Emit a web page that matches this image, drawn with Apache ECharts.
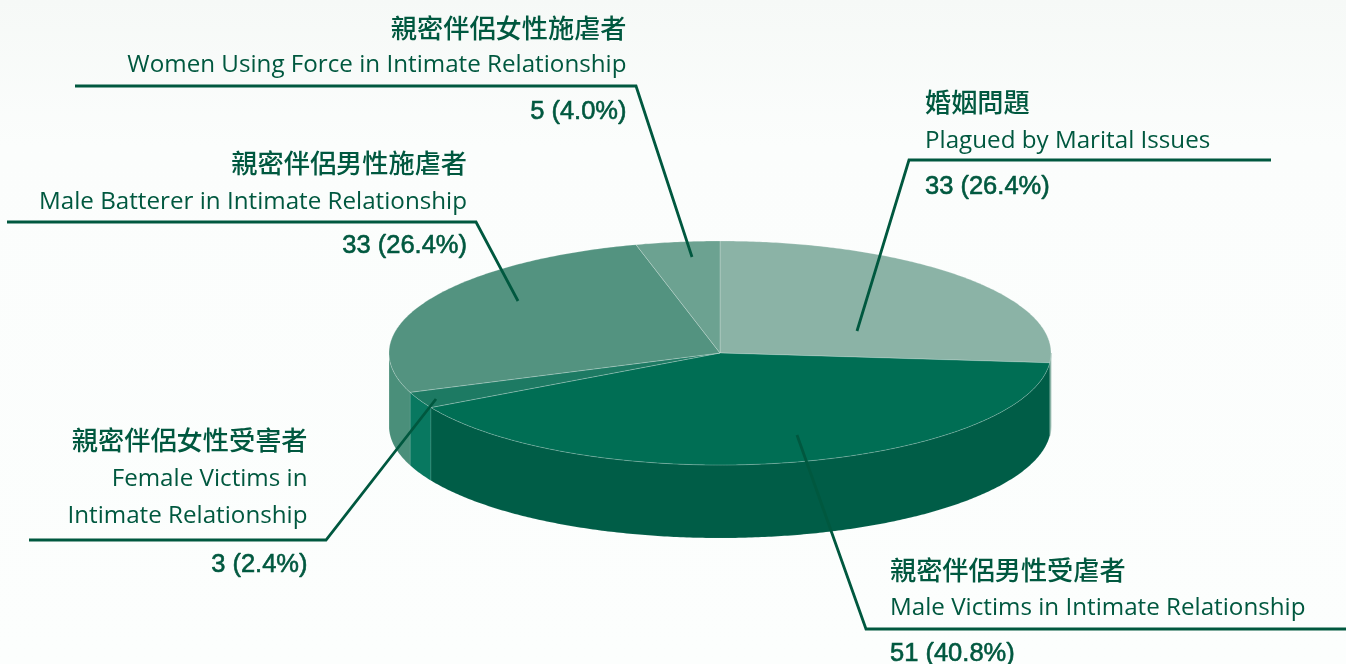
<!DOCTYPE html>
<html>
<head>
<meta charset="utf-8">
<style>html,body{margin:0;padding:0;background:#fcfefd}#c{width:1346px;height:664px}</style>
<script src="https://cdn.jsdelivr.net/npm/echarts@6/dist/echarts.min.js"></script>
</head>
<body>
<div id="c"></div>
<script>
const namesZh = ['婚姻問題','親密伴侶男性受虐者','親密伴侶女性受害者','親密伴侶男性施虐者','親密伴侶女性施虐者'];
const namesEn = [['Plagued by Marital Issues'],['Male Victims in Intimate Relationship'],['Female Victims in','Intimate Relationship'],['Male Batterer in Intimate Relationship'],['Women Using Force in Intimate Relationship']];
const values = [33,51,3,33,5];
const percents = ['26.4%','40.8%','2.4%','26.4%','4.0%'];

const topColors = ['#8bb3a6','#006e54','#1d7a63','#539380','#6ca291'];
const wallColors = ['#8bb3a6','#005d47','#087860','#4a8f7a','#6ca291'];
const ink = '#00583f';
const cx = 720, cy = 353, rx = 331, ry = 112, depth = 73;
const leaders = [
  [[857,331],[909,160],[1271,160]],
  [[797,435],[866,629],[1346,629]],
  [[436,399],[326,540],[29,540]],
  [[518,301],[476,222],[7,222]],
  [[692,257],[636,86],[75,86]]
];
const labelBoxes = [
  {x:925,align:'left',zh:102,en:[141],num:187},
  {x:890,align:'left',zh:570,en:[608],num:654},
  {x:307.5,align:'right',zh:440,en:[479,516],num:565},
  {x:467,align:'right',zh:163,en:[202],num:246},
  {x:626.5,align:'right',zh:28,en:[65],num:112}
];
const total = values.reduce((a,b)=>a+b,0);
const starts = []; { let s = 0; for (const v of values) { starts.push(s); s += v; } }
// slight perspective of the tilted disc: the far-left part of the rim is compressed
const warp = a => a + 0.021*Math.min(0, Math.sin(a));
const pt = (a, dy) => { const w = warp(a); return [cx + rx*Math.sin(w), cy + (dy||0) - ry*Math.cos(w)]; };
function arc(a0, a1, dy) {
  const n = Math.max(2, Math.ceil(Math.abs(a1-a0)/0.01)), out = [];
  for (let i=0;i<=n;i++) out.push(pt(a0+(a1-a0)*i/n, dy));
  return out;
}
const edge = {stroke:'rgba(255,255,255,0.22)', lineWidth:1};
function renderPie(params, api) {
  const i = params.dataIndex, v = api.value(0);
  const a0 = starts[i]/total*2*Math.PI, a1 = (starts[i]+v)/total*2*Math.PI;
  const kids = [];
  const w0 = Math.max(a0, Math.PI/2), w1 = Math.min(a1, Math.PI*1.5);
  if (w1 > w0) {
    kids.push({type:'polygon', shape:{points:arc(w0,w1,0).concat(arc(w1,w0,depth))},
      style:{fill:wallColors[i], stroke:i===0||i===4?wallColors[i]:'rgba(255,255,255,0.14)', lineWidth:0.6}});
  }
  kids.push({type:'polygon', z2:5, shape:{points:[[cx,cy]].concat(arc(a0,a1,0))},
    style:Object.assign({fill:topColors[i]}, edge)});
  return {type:'group', children:kids};
}
function renderLabel(params, api) {
  const i = params.dataIndex, b = labelBoxes[i], kids = [];
  kids.push({type:'polyline', shape:{points:leaders[i]}, style:{stroke:ink, lineWidth:2.8, fill:null}});
  const t = (text,y,font,sw) => ({type:'text', style:{text, x:b.x, y, align:b.align, verticalAlign:'middle', fill:ink, font, stroke:sw?ink:null, lineWidth:sw||0}});
  kids.push(t(namesZh[i], b.zh, '500 26.2px "Noto Sans CJK TC"'));
  namesEn[i].forEach((s,k)=>kids.push(t(s, b.en[k], '400 24.2px "Open Sans"')));
  kids.push(t(api.value(0)+' ('+percents[i]+')', b.num, '400 25.5px "Liberation Sans"', 0.6));
  return {type:'group', children:kids};
}
const chart = echarts.init(document.getElementById('c'), null, {renderer:'canvas'});
const seriesData = values.map((v,i)=>({name:namesZh[i], value:[v]}));
chart.setOption({
  animation:false,
  backgroundColor:{type:'linear',x:0,y:0,x2:0,y2:1,colorStops:[{offset:0,color:'#f6f9f7'},{offset:0.22,color:'#fbfdfc'},{offset:1,color:'#fcfefd'}]},
  series:[
    {type:'custom', coordinateSystem:'none', renderItem:renderPie, data:seriesData, z:2, silent:true},
    {type:'custom', coordinateSystem:'none', renderItem:renderLabel, data:seriesData, z:5, silent:true}
  ]
});
</script>
</body>
</html>
